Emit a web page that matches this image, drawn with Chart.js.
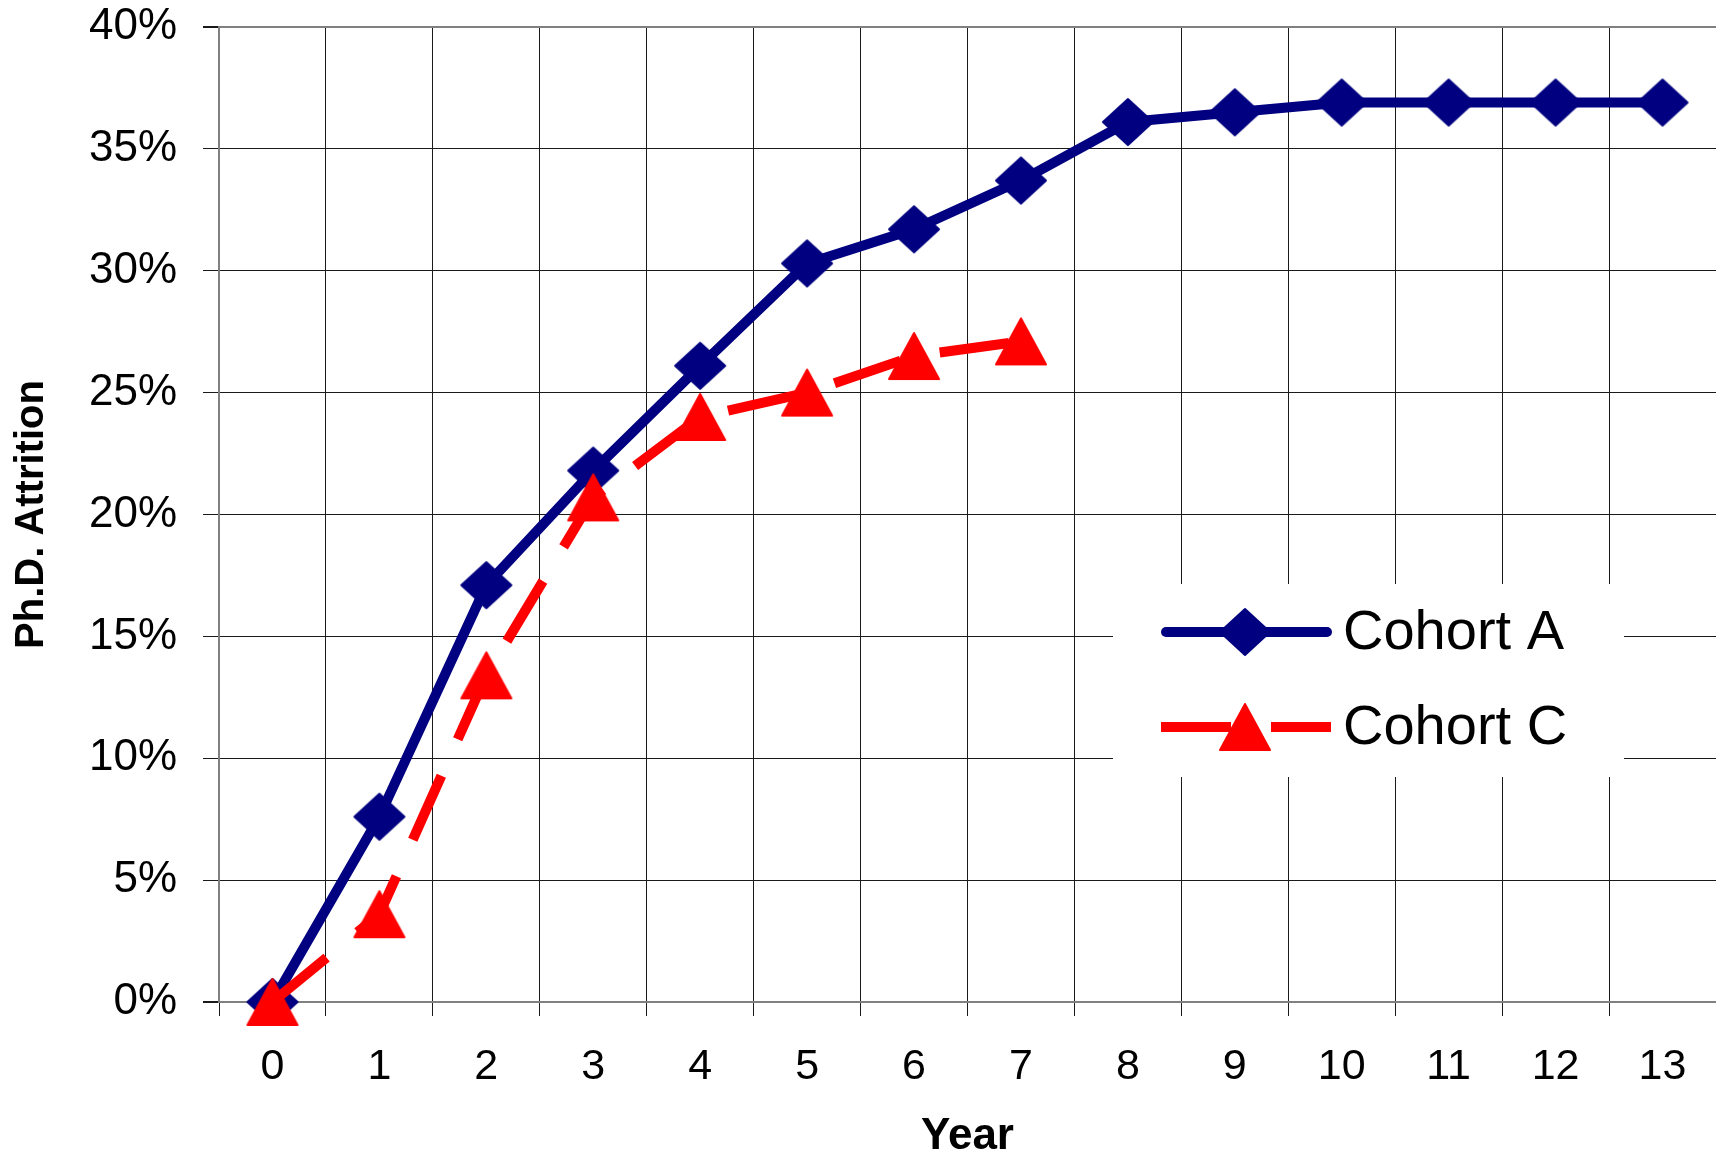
<!DOCTYPE html>
<html lang="en">
<head>
<meta charset="UTF-8">
<title>Ph.D. Attrition by Year</title>
<script src="https://cdn.jsdelivr.net/npm/chart.js"></script>
<style>
  html, body { margin: 0; padding: 0; background: #fff; }
  #chart-container { width: 1716px; height: 1159px; }
</style>
</head>
<body>
<div id="chart-container"><canvas id="attrition"></canvas></div>
<script>
  // values, in percent
  const years = ['0', '1', '2', '3', '4', '5', '6', '7', '8', '9', '10', '11', '12', '13'];
  const cohortA = [0, 7.6, 17.1, 21.8, 26.1, 30.3, 31.7, 33.7, 36.1, 36.5, 36.9, 36.9, 36.9, 36.9];
  const cohortC = [0, 3.6, 13.4, 20.7, 24.0, 25.0, 26.5, 27.1];
  const yMax = 40;
  const yStep = 5;

  const NAVY = '#000080';
  const RED = '#ff0000';
  const FONT = '"Liberation Sans", Arial, sans-serif';

  // marker images (Excel-like diamond and triangle, centred on the point)
  const makeMarker = (color, draw) => {
    const c = document.createElement('canvas');
    c.width = 54;
    c.height = 50;
    const g = c.getContext('2d');
    g.fillStyle = color;
    g.strokeStyle = color;
    g.lineWidth = 2;
    g.lineJoin = 'round';
    g.beginPath();
    draw(g);
    g.closePath();
    g.fill();
    g.stroke();
    return c;
  };
  const diamond = makeMarker(NAVY, g => {
    g.moveTo(27, 2); g.lineTo(52, 25); g.lineTo(27, 48); g.lineTo(2, 25);
  });
  const triangle = makeMarker(RED, g => {
    g.moveTo(27, 2); g.lineTo(52, 48); g.lineTo(2, 48);
  });

  // legend drawn inside the plot, on a white box
  const insideLegend = {
    id: 'insideLegend',
    afterDraw(chart) {
      const ctx = chart.ctx;
      const sets = chart.data.datasets;
      ctx.save();
      ctx.fillStyle = '#fff';
      ctx.fillRect(1113, 584, 511, 193);

      const rows = [632, 727];
      rows.forEach((y, i) => {
        const ds = sets[i];
        ctx.strokeStyle = ds.borderColor;
        ctx.lineWidth = ds.borderWidth;
        ctx.lineCap = ds.borderDash ? 'butt' : 'round';
        ctx.setLineDash(ds.borderDash || []);
        ctx.beginPath();
        ctx.moveTo(ds.borderDash ? 1161 : 1166, y);
        ctx.lineTo(ds.borderDash ? 1331 : 1327, y);
        ctx.stroke();
        ctx.setLineDash([]);
        const img = ds.pointStyle;
        ctx.drawImage(img, 1245 - img.width / 2, y - img.height / 2);

        ctx.fillStyle = '#000';
        ctx.font = '56px ' + FONT;
        ctx.textAlign = 'left';
        ctx.textBaseline = 'middle';
        ctx.fillText(ds.label, 1343, y + 2);
      });
      ctx.restore();
    }
  };

  // keep the plot area where the original has it (no label overflow padding)
  const noPad = scale => {
    scale.paddingTop = 0;
    scale.paddingBottom = 0;
    scale.paddingLeft = 0;
    scale.paddingRight = 0;
  };

  const edgeColor = '#808080';
  const gridColor = '#1a1a1a';

  new Chart(document.getElementById('attrition'), {
    type: 'line',
    data: {
      labels: years,
      datasets: [
        {
          label: 'Cohort A',
          data: cohortA,
          borderColor: NAVY,
          backgroundColor: NAVY,
          borderWidth: 10,
          borderJoinStyle: 'round',
          borderCapStyle: 'round',
          pointStyle: diamond,
          pointRadius: 25,
          pointHoverRadius: 25,
          tension: 0,
          clip: false,
          order: 1
        },
        {
          label: 'Cohort C',
          data: cohortC,
          borderColor: RED,
          backgroundColor: RED,
          borderWidth: 10,
          borderDash: [70, 40],
          borderCapStyle: 'butt',
          pointStyle: triangle,
          pointRadius: 25,
          pointHoverRadius: 25,
          tension: 0,
          clip: false,
          order: 0
        }
      ]
    },
    options: {
      responsive: true,
      maintainAspectRatio: false,
      animation: false,
      layout: { autoPadding: false, padding: { left: 0, right: 0, top: 27, bottom: 0 } },
      plugins: {
        legend: { display: false },
        tooltip: { enabled: false }
      },
      scales: {
        x: {
          type: 'category',
          offset: true,
          afterFit: scale => { scale.height = 157; noPad(scale); },
          grid: {
            offset: true,
            color: c => (c.index === 0 ? edgeColor : gridColor),
            lineWidth: 1,
            tickLength: 14,
            tickColor: gridColor
          },
          border: { display: true, color: edgeColor, width: 2 },
          ticks: {
            color: '#000',
            font: { family: FONT, size: 43 },
            padding: 25,
            maxRotation: 0
          },
          title: {
            display: true,
            text: 'Year',
            color: '#000',
            font: { family: FONT, size: 44, weight: 'bold', lineHeight: 1 },
            padding: { top: 0, bottom: 0 }
          }
        },
        y: {
          min: 0,
          max: yMax,
          afterFit: scale => { scale.width = 219; noPad(scale); },
          grid: {
            color: c => (c.tick && (c.tick.value === yMax || c.tick.value === 0) ? edgeColor : gridColor),
            lineWidth: c => (c.tick && (c.tick.value === yMax || c.tick.value === 0) ? 2 : 1),
            tickLength: 16,
            tickColor: gridColor
          },
          border: { display: true, color: edgeColor, width: 2 },
          ticks: {
            stepSize: yStep,
            color: '#000',
            font: { family: FONT, size: 44 },
            padding: 26,
            callback: v => v + '%'
          },
          title: {
            display: true,
            text: 'Ph.D. Attrition',
            color: '#000',
            font: { family: FONT, size: 40, weight: 'bold', lineHeight: 1.2 },
            padding: { top: 8, bottom: 0 }
          }
        }
      }
    },
    plugins: [insideLegend]
  });
</script>
</body>
</html>
